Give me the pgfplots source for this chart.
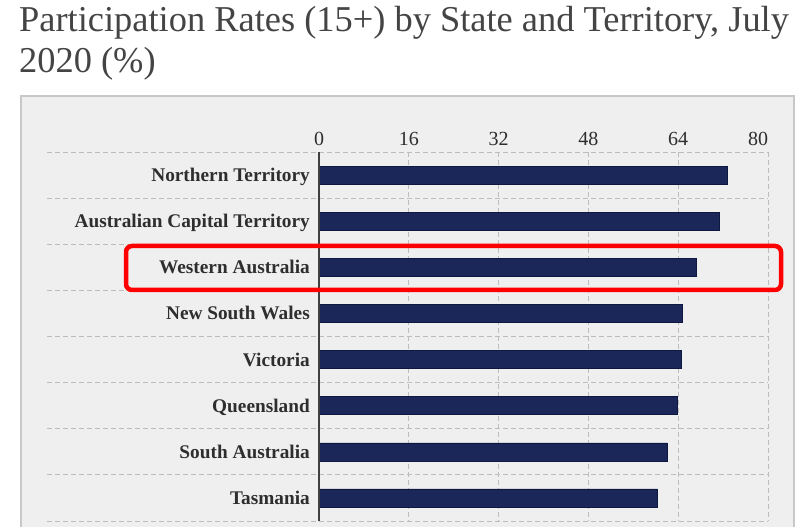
\documentclass[border=0pt]{standalone}
\usepackage{pgfplots}
\pgfplotsset{compat=1.18}
\usepackage{fontspec}
\setmainfont{Liberation Serif}
\definecolor{panelbg}{HTML}{EFEFEF}
\definecolor{panelborder}{HTML}{C8C8C8}
\definecolor{gridc}{HTML}{BDBDBD}
\definecolor{navy}{HTML}{1B2758}
\definecolor{navyedge}{HTML}{0E1740}
\definecolor{titlec}{HTML}{444444}
\definecolor{labc}{HTML}{2E2E2E}
\begin{document}
\begin{tikzpicture}[x=1pt,y=1pt]
\useasboundingbox (0,0) rectangle (800,527);
\clip (0,0) rectangle (800,527);
% panel
\filldraw[fill=panelbg, draw=panelborder, line width=1.5pt] (21,431) rectangle (794,-10);
% title
\node[anchor=base west, inner sep=0pt, text=titlec, font=\fontsize{36.4}{40}\selectfont] at (19,495) {Participation Rates (15+) by State and Territory, July};
\node[anchor=base west, inner sep=0pt, text=titlec, font=\fontsize{36.4}{40}\selectfont] at (19,454) {2020 (\%)};
\begin{axis}[
  at={(319pt,6pt)}, anchor=south west,
  scale only axis, width=449pt, height=369pt,
  xmin=0, xmax=80, ymin=-0.5, ymax=7.5,
  y dir=reverse,
  xbar, bar width=18pt,
  clip=false,
  axis line style={draw=none},
  major tick length=0pt,
  xticklabel pos=top,
  xtick={0,16,32,48,64},
  extra x ticks={80},
  extra x tick style={xticklabel style={xshift=-10pt}, grid=major},
  xmajorgrids,
  grid style={gridc, dash pattern=on 5pt off 3pt, line width=0.8pt},
  xticklabel style={font=\fontsize{20}{22}\selectfont, text=labc, inner sep=0pt, anchor=base, yshift=7pt},
  ytick={0,1,2,3,4,5,6,7},
  yticklabels={Northern Territory, Australian Capital Territory, Western Australia, New South Wales, Victoria, Queensland, South Australia, Tasmania},
  yticklabel style={font=\fontsize{19.3}{21}\selectfont\bfseries, text=labc, inner sep=0pt, anchor=base east, xshift=-9pt, yshift=-6.5pt},
  /pgf/number format/assume math mode=true,
]
\pgfplotsinvokeforeach{-0.5,0.5,1.5,2.5,3.5,4.5,5.5,6.5,7.5}{
  \draw[gridc, dash pattern=on 5pt off 3pt, line width=0.8pt] (axis cs:-48.4,#1) -- (axis cs:80,#1);
}
\addplot[fill=navy, draw=navyedge, line width=0.6pt] coordinates {
  (72.8,0) (71.4,1) (67.2,2) (64.8,3) (64.6,4) (63.9,5) (62.0,6) (60.3,7)
};
\draw[black!75, line width=1.6pt] (axis cs:0,-0.5) -- (axis cs:0,7.5);
\end{axis}
% highlight box
\draw[red, line width=4.5pt, rounded corners=6pt] (126,281) rectangle (781,237);
\end{tikzpicture}
\end{document}
